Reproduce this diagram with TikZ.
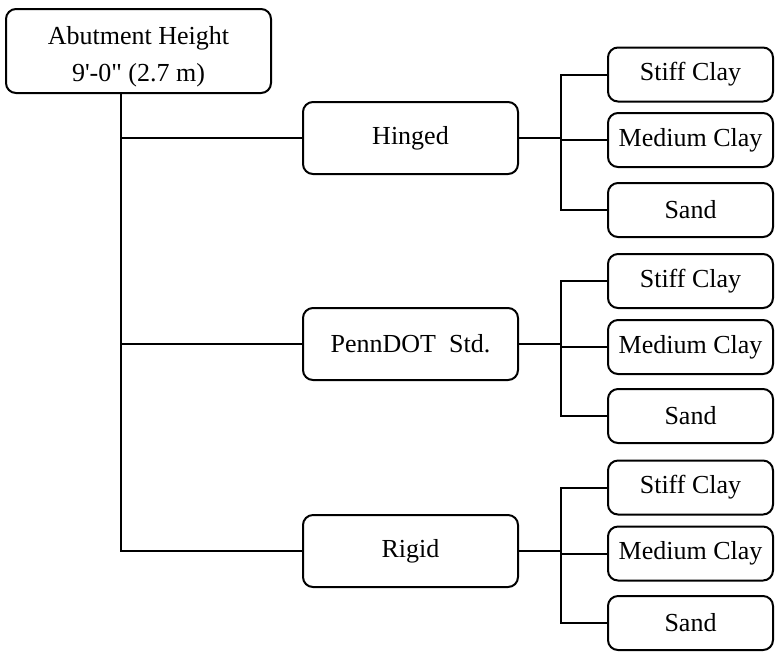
\documentclass[tikz,border=0pt]{standalone}
\usepackage{fontspec}
\setmainfont{Liberation Serif}
\usetikzlibrary{positioning}

\begin{document}
\begin{tikzpicture}[
  x=0.5pt, y=-0.5pt,
  box/.style={draw=black, line width=1pt, fill=white, rounded corners=5pt, align=center, inner sep=0pt, font=\fontsize{13}{18.5}\selectfont},
  rootbox/.style={box, minimum width=132.5pt, minimum height=42pt},
  typebox/.style={box, minimum width=107.5pt, minimum height=36pt},
  soilbox/.style={box, minimum width=82.5pt, minimum height=27pt},
  link/.style={line width=1pt, draw=black}
]
\useasboundingbox (0,0) rectangle (775,655);

% root
\node[rootbox] (root) at (138.5,51) {\raisebox{-2.5pt}[\height][\depth]{\begin{tabular}{@{}c@{}}Abutment Height\\9\textquotesingle-0\textquotedbl{} (2.7 m)\end{tabular}}};

% abutment types
\node[typebox] (hinged) at (410.5,138) {Hinged};
\node[typebox] (penndot) at (410.5,344) {PennDOT\ \ Std.};
\node[typebox] (rigid) at (410.5,551) {Rigid};

% soils
\node[soilbox] (hStiff) at (690.5,74.5) {Stiff Clay};
\node[soilbox] (hMed) at (690.5,140) {Medium Clay};
\node[soilbox] (hSand) at (690.5,210) {Sand};
\node[soilbox] (pStiff) at (690.5,281) {Stiff Clay};
\node[soilbox] (pMed) at (690.5,347) {Medium Clay};
\node[soilbox] (pSand) at (690.5,416) {Sand};
\node[soilbox] (rStiff) at (690.5,487.5) {Stiff Clay};
\node[soilbox] (rMed) at (690.5,553.5) {Medium Clay};
\node[soilbox] (rSand) at (690.5,623) {Sand};

% trunk
\coordinate (trunk) at (121,93);
\draw[link] (trunk) |- (rigid.west);
\draw[link] (trunk |- hinged.west) -- (hinged.west);
\draw[link] (trunk |- penndot.west) -- (penndot.west);

% soil branches
\foreach \t/\g in {hinged/h, penndot/p, rigid/r} {
  \coordinate (\g Hub) at (561,0);
  \draw[link] (\t.east) -- (\g Hub |- \t.east);
  \draw[link] (\g Stiff.west) -| (\g Hub |- \g Sand.west) -- (\g Sand.west);
  \draw[link] (\g Hub |- \g Med.west) -- (\g Med.west);
}
\end{tikzpicture}
\end{document}
